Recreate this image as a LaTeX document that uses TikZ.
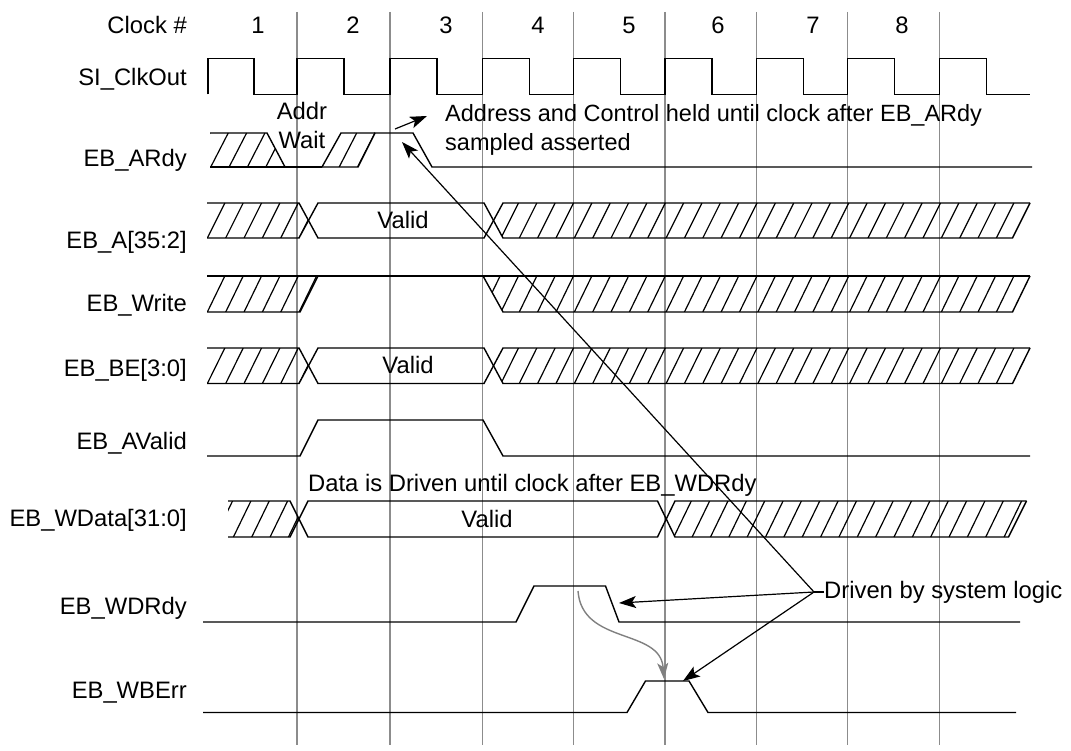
\documentclass[tikz,border=0pt]{standalone}
\usepackage{fontspec}
\setmainfont{Liberation Sans}
\usetikzlibrary{arrows.meta}
\tikzset{
  gridln/.style={draw=black!45, line width=1.3},
  sig/.style={draw=black, line width=1.4, line join=miter},
  hatchln/.style={draw=black, line width=1.2},
  lbl/.style={anchor=east, inner sep=0pt},
  txt/.style={inner sep=0pt},
  arr/.style={draw=black, line width=1.2, -{Stealth[length=17,width=12,inset=4]}},
  grayarr/.style={draw=black!50, line width=1.4, -{Stealth[length=16,width=11,inset=4]}},
}
% #1 clip path, #2 top y, #3 bottom y, #4 phase
\newcommand{\hatchreg}[4]{%
  \begin{scope}
    \clip #1;
    \foreach \k in {-2,...,50} {
      \pgfmathsetmacro{\xb}{#4+18.35*\k}
      \draw[hatchln] (\xb,#3) -- ({\xb+17.5},#2);
    }
  \end{scope}}
\begin{document}
\begin{tikzpicture}[x=1pt,y=-1pt,font=\fontsize{23.8}{29.5}\selectfont]
\useasboundingbox (0,0) rectangle (1071,751);
% grid
\foreach \g in {297,390,482.7,573.5,665,756.7,847.7,939.5}
  \draw[gridln] (\g,12) -- (\g,745);
% clock numbers
\node[txt] (clk) at (187,25) [anchor=east] {Clock \#};
\foreach \n/\x in {1/258,2/353,3/446,4/538,5/629,6/718,7/813,8/902}
  \node[txt] (num\n) at (\x,25) {\n};
% labels
\node[lbl] (lclk) at (187,79) {SI\_ClkOut};
\node[lbl] (lardy) at (187,160) {EB\_ARdy};
\node[lbl] (la) at (187,242) {EB\_A[35:2]};
\node[lbl] (lw) at (187,305) {EB\_Write};
\node[lbl] (lbe) at (187,370) {EB\_BE[3:0]};
\node[lbl] (lav) at (187,443) {EB\_AValid};
\node[lbl] (lwd) at (187,520) {EB\_WData[31:0]};
\node[lbl] (lwdr) at (187,608) {EB\_WDRdy};
\node[lbl] (lwbe) at (187,693) {EB\_WBErr};
% clock
\draw[sig] (208,94.3) |- (254,58.3) |- (297,94.3)
  foreach \r in {297,390,482.7,573.5,665,756.7,847.7,939.5} { -- (\r,94.3) -- (\r,58.3) -- ({\r+47},58.3) -- ({\r+47},94.3) } -- (1030,94.3);
% EB_ARdy
\hatchreg{(210,133) -- (267,133) -- (285,167) -- (210,167) -- cycle}{133}{167}{192.4}
\draw[sig] (210,133) -- (267,133) -- (285,167);
\draw[sig] (210,167) -- (322,167);
\hatchreg{(322,167) -- (341,133) -- (375,133) -- (358,167) -- cycle}{133}{167}{192.4}
\draw[sig] (322,167) -- (358,167) -- (375,133) -- (413,133) -- (432,167) -- (1032,167);
\draw[sig] (322,167) -- (341,133) -- (375,133);
\node[txt, align=center] (addrwait) at (302,125.5) {Addr\\Wait};
% EB_A
\hatchreg{(207,203) -- (299,203) -- (308.5,220.5) -- (299,238) -- (207,238) -- cycle}{203}{238}{189}
\hatchreg{(493.5,220.5) -- (503,203) -- (1030,203) -- (1012.5,238) -- (503,238) -- cycle}{203}{238}{189}
\draw[sig] (207,203) -- (299,203) -- (318,238) -- (484,238) -- (503,203) -- (1030,203);
\draw[sig] (207,238) -- (299,238) -- (318,203) -- (484,203) -- (503,238) -- (1012.5,238) -- (1030,203);
\node[txt] (va) at (403,220) {Valid};
% EB_Write
\hatchreg{(207,276) -- (318,276) -- (300,312) -- (207,312) -- cycle}{276}{312}{189}
\hatchreg{(483,276) -- (1030,276) -- (1012.5,312) -- (503,312) -- cycle}{276}{312}{189}
\draw[sig] (207,276) -- (1030,276);
\draw[sig] (207,312) -- (300,312) -- (318,276);
\draw[sig] (483,276) -- (503,312) -- (1012.5,312) -- (1030,276);
% EB_BE
\hatchreg{(207,348) -- (299,348) -- (308.5,365.7) -- (299,383.5) -- (207,383.5) -- cycle}{348}{383.5}{189}
\hatchreg{(493.5,365.7) -- (503,348) -- (1030,348) -- (1012.5,383.5) -- (503,383.5) -- cycle}{348}{383.5}{189}
\draw[sig] (207,348) -- (299,348) -- (318,383.5) -- (484,383.5) -- (503,348) -- (1030,348);
\draw[sig] (207,383.5) -- (299,383.5) -- (318,348) -- (484,348) -- (503,383.5) -- (1012.5,383.5) -- (1030,348);
\node[txt] (vbe) at (408,365) {Valid};
% EB_AValid
\draw[sig] (207,456) -- (300,456) -- (318,420) -- (483,420) -- (503,456) -- (1030,456);
% EB_WData
\hatchreg{(228,501) -- (290,501) -- (299,519) -- (290,537) -- (228,537) -- cycle}{501}{537}{196.7}
\hatchreg{(666,519) -- (675,501) -- (1026.5,501) -- (1008.5,537) -- (675,537) -- cycle}{501}{537}{196.7}
\draw[sig] (228,501) -- (290,501) -- (308,537) -- (657.5,537) -- (675,501) -- (1026.5,501);
\draw[sig] (228,537) -- (290,537) -- (308,501) -- (657.5,501) -- (675,537) -- (1008.5,537) -- (1026.5,501);
\node[txt] (vwd) at (487,519) {Valid};
\node[txt, anchor=west] (datadriven) at (308,485) {Data is Driven until clock after EB\_WDRdy};
% EB_WDRdy
\draw[sig] (203,622) -- (516,622) -- (534,586) -- (605.5,586) -- (619,622) -- (1020,622);
% EB_WBErr
\draw[sig] (203,712.5) -- (627,712.5) -- (645.5,681) -- (689,681) -- (708,712.5) -- (1016,712.5);
% annotations
\node[txt, anchor=west, align=left, font=\fontsize{23.5}{29.5}\selectfont] (addrctl) at (445,130) {Address and Control held until clock after EB\_ARdy\\sampled asserted};
\coordinate (a1s) at (395,129);
\coordinate (a1e) at (427,116);
\draw[arr] (a1s) -- (a1e);
\coordinate (hub) at (814,592);
\node[txt, anchor=west] (dbs) at (824,592) {Driven by system logic};
\draw[sig, line width=1.2] (hub) -- (dbs.west);
\coordinate (ardyT) at (402,142);
\coordinate (wdrT) at (619,603);
\coordinate (wbeT) at (683,681);
\draw[arr] (hub) -- (ardyT);
\draw[arr] (hub) -- (wdrT);
\draw[arr] (hub) -- (wbeT);
\coordinate (g1) at (578,591);
\coordinate (g2) at (664,679);
\draw[grayarr] (g1) .. controls (582,645) and (660,628) .. (g2);
\end{tikzpicture}
\end{document}
